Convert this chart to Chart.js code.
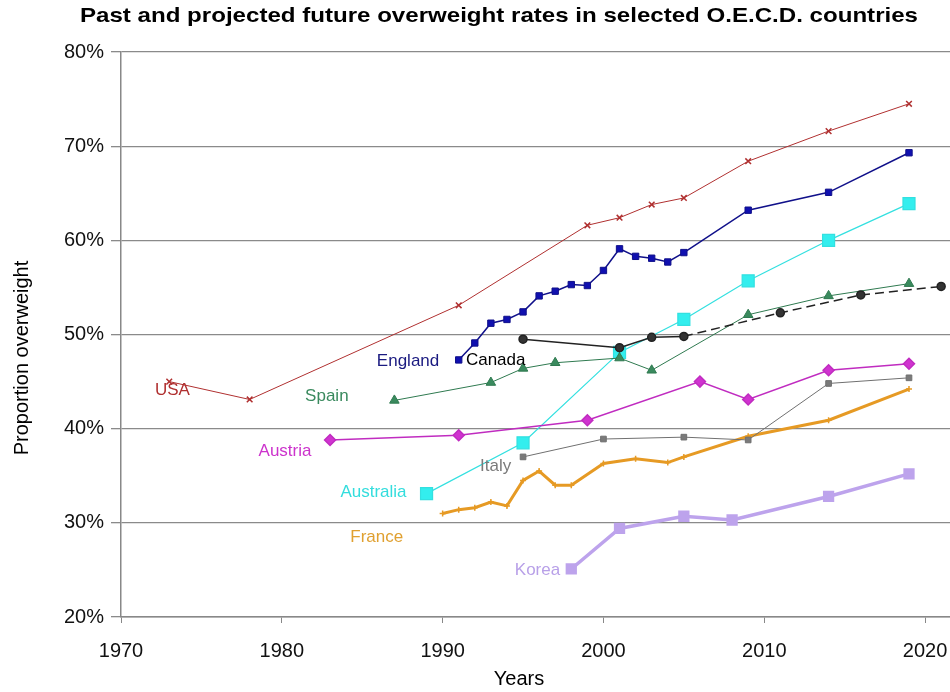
<!DOCTYPE html>
<html lang="en">
<head>
<meta charset="UTF-8">
<title>Overweight rates OECD</title>
<script src="https://cdn.jsdelivr.net/npm/chart.js"></script>
<style>
  body { margin: 0; background: #fff; }
</style>
</head>
<body>
<canvas id="grafico" width="950" height="692"></canvas>
<script>
const yearTicks = [1970, 1980, 1990, 2000, 2010, 2020]
const pctTicks = [20, 30, 40, 50, 60, 70, 80]

const usaYears = [1973, 1978, 1991, 1999, 2001, 2003, 2005, 2009, 2014, 2019]
const usaValues = [45.0, 43.1, 53.1, 61.6, 62.4, 63.8, 64.5, 68.4, 71.6, 74.5]

const englandYears = [1991, 1992, 1993, 1994, 1995, 1996, 1997, 1998, 1999, 2000, 2001, 2002, 2003, 2004, 2005, 2009, 2014, 2019]
const englandValues = [47.3, 49.1, 51.2, 51.6, 52.4, 54.1, 54.6, 55.3, 55.2, 56.8, 59.1, 58.3, 58.1, 57.7, 58.7, 63.2, 65.1, 69.3]

const canadaYears = [1995, 2001, 2003, 2005, 2011, 2016, 2021]
const canadaValues = [49.5, 48.6, 49.7, 49.8, 52.3, 54.2, 55.1]

const spainYears = [1987, 1993, 1995, 1997, 2001, 2003, 2009, 2014, 2019]
const spainValues = [43.0, 44.9, 46.4, 47.0, 47.5, 46.2, 52.1, 54.1, 55.4]

const austriaYears = [1983, 1991, 1999, 2006, 2009, 2014, 2019]
const austriaValues = [38.8, 39.3, 40.9, 45.0, 43.1, 46.2, 46.9]

const italyYears = [1995, 2000, 2005, 2009, 2014, 2019]
const italyValues = [37.0, 38.9, 39.1, 38.8, 44.8, 45.4]

const australiaYears = [1989, 1995, 2001, 2005, 2009, 2014, 2019]
const australiaValues = [33.1, 38.5, 48.1, 51.6, 55.7, 60.0, 63.9]

const franceYears = [1990, 1991, 1992, 1993, 1994, 1995, 1996, 1997, 1998, 2000, 2002, 2004, 2005, 2009, 2014, 2019]
const franceValues = [31.0, 31.4, 31.6, 32.2, 31.8, 34.5, 35.5, 34.0, 34.0, 36.3, 36.8, 36.4, 37.0, 39.2, 40.9, 44.2]

const koreaYears = [1998, 2001, 2005, 2008, 2014, 2019]
const koreaValues = [25.1, 29.4, 30.7, 30.3, 32.8, 35.2]

const titulo = 'Past and projected future overweight rates in selected O.E.C.D. countries'

// labels written next to each line (in data units)
const rotulos = [
  { text: 'USA', year: 1973.2, value: 44.1, color: '#b03030' },
  { text: 'England', year: 1987.85, value: 47.2, color: '#1a1a80' },
  { text: 'Canada', year: 1993.3, value: 47.3, color: '#000000' },
  { text: 'Spain', year: 1982.8, value: 43.4, color: '#3a8a5e' },
  { text: 'Austria', year: 1980.2, value: 37.55, color: '#cc33cc' },
  { text: 'Italy', year: 1993.3, value: 36.05, color: '#7a7a7a' },
  { text: 'Australia', year: 1985.7, value: 33.2, color: '#33dddd' },
  { text: 'France', year: 1985.9, value: 28.5, color: '#e0a030' },
  { text: 'Korea', year: 1995.9, value: 25.0, color: '#b8a0e8' }
]

const pares = (xs, ys) => xs.map((x, i) => ({ x: x, y: ys[i] }))

const fonte = '"Liberation Sans", Arial, sans-serif'

const textos = {
  id: 'textos',
  afterDatasetsDraw(chart) {
    const ctx = chart.ctx
    const sx = chart.scales.x, sy = chart.scales.y
    ctx.save()
    ctx.textAlign = 'center'
    ctx.textBaseline = 'middle'
    ctx.font = '17px ' + fonte
    rotulos.forEach(r => {
      ctx.fillStyle = r.color
      ctx.fillText(r.text, sx.getPixelForValue(r.year), sy.getPixelForValue(r.value))
    })
    ctx.restore()
  },
  afterDraw(chart) {
    const ctx = chart.ctx
    ctx.save()
    ctx.textAlign = 'center'
    ctx.textBaseline = 'middle'
    ctx.fillStyle = '#000'
    ctx.font = 'bold 21px ' + fonte
    const w = ctx.measureText(titulo).width
    ctx.translate(499, 16)
    ctx.scale(838 / w, 1)
    ctx.fillText(titulo, 0, 0)
    ctx.restore()

    ctx.save()
    ctx.fillStyle = '#000'
    ctx.textAlign = 'center'
    ctx.textBaseline = 'middle'
    ctx.font = '20px ' + fonte
    ctx.fillText('Years', 519, 679)
    ctx.translate(22, 358)
    ctx.rotate(-Math.PI / 2)
    ctx.fillText('Proportion overweight', 0, 0)
    ctx.restore()
  }
}

const ctx = document.getElementById('grafico')

let grafico = new Chart(ctx, {
  type: 'line',
  data: {
    datasets: [
      { label: 'USA', data: pares(usaYears, usaValues), borderColor: '#b03030', backgroundColor: '#b03030',
        borderWidth: 1, pointStyle: 'crossRot', pointRadius: 4, pointBorderWidth: 1.5 },
      { label: 'England', data: pares(englandYears, englandValues), borderColor: '#10108a', backgroundColor: '#1010b0',
        borderWidth: 1.5, pointStyle: 'rect', pointRadius: 4.5, pointBorderWidth: 1 },
      { label: 'Canada', data: pares(canadaYears, canadaValues), borderColor: '#222', backgroundColor: '#333',
        borderWidth: 1.5, pointStyle: 'circle', pointRadius: 4,
        segment: { borderDash: c => c.p0.parsed.x >= 2005 ? [9, 5] : undefined } },
      { label: 'Spain', data: pares(spainYears, spainValues), borderColor: '#2f7a50', backgroundColor: '#3a8a5e',
        borderWidth: 1, pointStyle: 'triangle', pointRadius: 5.5 },
      { label: 'Austria', data: pares(austriaYears, austriaValues), borderColor: '#c02cc0', backgroundColor: '#d033d0',
        borderWidth: 1.5, pointStyle: 'rectRot', pointRadius: 5.5 },
      { label: 'Italy', data: pares(italyYears, italyValues), borderColor: '#707070', backgroundColor: '#7a7a7a',
        borderWidth: 1, pointStyle: 'rect', pointRadius: 4 },
      { label: 'Australia', data: pares(australiaYears, australiaValues), borderColor: '#33e0e0', backgroundColor: '#33eeee',
        borderWidth: 1.2, pointStyle: 'rect', pointRadius: 8.5 },
      { label: 'France', data: pares(franceYears, franceValues), borderColor: '#e69a24', backgroundColor: '#e69a24',
        borderWidth: 3, pointStyle: 'cross', pointRadius: 3, pointBorderWidth: 1.5 },
      { label: 'Korea', data: pares(koreaYears, koreaValues), borderColor: '#bda3ec', backgroundColor: '#bda3ec',
        borderWidth: 3.5, pointStyle: 'rect', pointRadius: 5.5 }
    ]
  },
  options: {
    responsive: false,
    animation: false,
    layout: { autoPadding: false, padding: { top: 52, right: 0, bottom: 0, left: 0 } },
    plugins: {
      legend: { display: false },
      tooltip: { enabled: false }
    },
    elements: { line: { tension: 0 } },
    scales: {
      x: {
        type: 'linear',
        min: 1970,
        max: 2021.55,
        afterBuildTicks: s => { s.ticks = yearTicks.map(v => ({ value: v })) },
        afterFit: s => { s.height = 75; s.paddingRight = 0; s.paddingLeft = 0 },
        grid: { drawOnChartArea: false, drawTicks: true, tickLength: 6, color: '#888' },
        border: { color: '#888', width: 1.5 },
        ticks: { padding: 16, color: '#111', font: { size: 20, family: fonte }, callback: v => String(v) }
      },
      y: {
        min: 20,
        max: 80,
        afterBuildTicks: s => { s.ticks = pctTicks.map(v => ({ value: v })) },
        afterFit: s => { s.width = 121 },
        grid: { color: '#8a8a8a', lineWidth: 1.3, tickLength: 10 },
        border: { color: '#888', width: 1.5 },
        ticks: { padding: 7, color: '#111', font: { size: 20, family: fonte }, callback: v => v + '%' }
      }
    }
  },
  plugins: [textos]
})
</script>
</body>
</html>
